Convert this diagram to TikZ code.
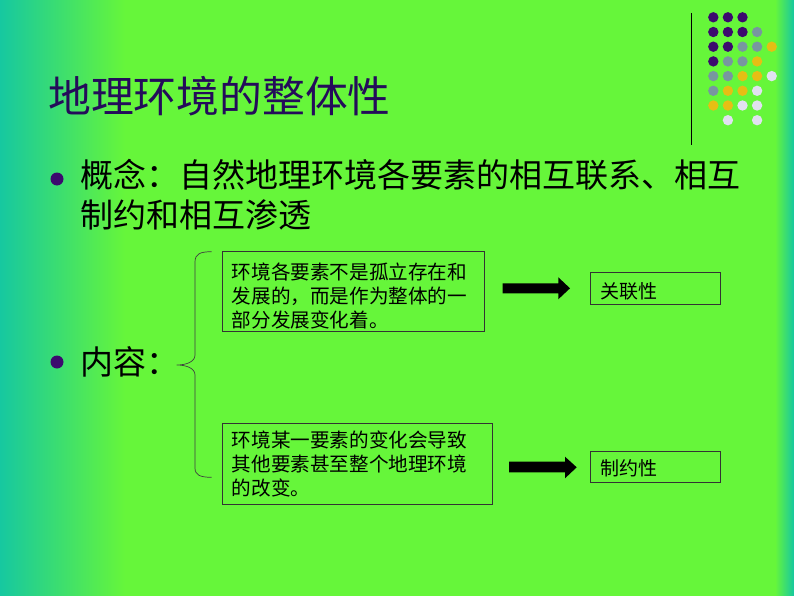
\documentclass[tikz,border=0pt]{standalone}
\usepackage{fontspec}
\setmainfont{Noto Sans CJK SC}
\definecolor{bggreen}{RGB}{102,246,58}
\definecolor{bgteal}{RGB}{22,200,160}
\definecolor{titlecol}{RGB}{36,12,90}
\definecolor{dotP}{RGB}{60,10,110}
\definecolor{dotG}{RGB}{120,150,160}
\definecolor{dotY}{RGB}{230,190,20}
\definecolor{dotW}{RGB}{225,225,240}
\tikzset{
  titletext/.style={anchor=base west, inner sep=0pt, text=titlecol, font=\fontsize{42.8}{50}\selectfont},
  bullettext/.style={anchor=base west, inner sep=0pt, align=left, font=\fontsize{33}{40}\selectfont},
  boxtext/.style={anchor=base west, inner sep=0pt, align=left, font=\fontsize{19.6}{24}\selectfont},
  labeltext/.style={anchor=base west, inner sep=0pt, font=\fontsize{19}{22}\selectfont},
  framebox/.style={draw=black!80, line width=0.8pt, rectangle, inner sep=0pt},
  blockarrow/.style={fill=black},
  bracecol/.style={draw=black!75, line width=0.7pt}
}
\begin{document}
\begin{tikzpicture}[x=1pt, y=-1pt]
\useasboundingbox (0,0) rectangle (794,596);
% background
\fill[bggreen] (0,0) rectangle (794,596);
\shade[left color=bgteal, right color=bggreen] (0,0) rectangle (125,596);
\shade[left color=bggreen, right color=bgteal] (775,0) rectangle (794,596);
% decorative dots and line
\draw[black, line width=0.8pt] (691.7,13) -- (691.7,145);
\foreach \col/\row/\cl in {0/0/P,1/0/P,2/0/P,
  0/1/P,1/1/P,2/1/P,3/1/G,
  0/2/P,1/2/P,2/2/G,3/2/G,4/2/Y,
  0/3/P,1/3/G,2/3/G,3/3/Y,
  0/4/G,1/4/G,2/4/Y,3/4/Y,4/4/W,
  0/5/G,1/5/Y,2/5/Y,3/5/W,
  0/6/Y,1/6/Y,2/6/W,3/6/W,
  1/7/W,3/7/W}{
  \fill[dot\cl] ({713.3+14.6*\col},{17.3+14.7*\row}) circle (5.2);
}
% title
\node[titletext] (title) at (48,112.5) {地理环境的整体性};
% bullets
\fill[dotP] (57,179) circle (6.5);
\fill[dotP] (57,362) circle (6.5);
\node[bullettext] (concept) at (80,227.5) {概念：自然地理环境各要素的相互联系、相互\\制约和相互渗透};
\node[bullettext] (content) at (80,374) {内容：};
% brace
\coordinate (bt) at (211.7,251.7);
\coordinate (bm) at (176.7,365);
\coordinate (bb) at (211.7,477.3);
\draw[bracecol] (bt) .. controls (200,251.7) and (195,254) .. (195,262)
  -- (195,355) .. controls (195,362) and (186,365) .. (bm)
  .. controls (186,365) and (195,368) .. (195,375)
  -- (195,468) .. controls (195,475) and (200,477.3) .. (bb);
% boxes
\node[framebox, minimum width=262pt, minimum height=80pt] (box1) at (353,291) {};
\node[boxtext] (t1) at (231.7,327.5) {环境各要素不是孤立存在和\\发展的，而是作为整体的一\\部分发展变化着。};
\node[framebox, minimum width=270pt, minimum height=81pt] (box2) at (357,463.5) {};
\node[boxtext] (t2) at (231.7,495.5) {环境某一要素的变化会导致\\其他要素甚至整个地理环境\\的改变。};
% arrows
\fill[blockarrow] (502.7,283.3) -- (558.3,283.3) -- (558.3,277.3) -- (570,288.3) -- (558.3,299.3) -- (558.3,293.3) -- (502.7,293.3) -- cycle;
\fill[blockarrow] (509,461.7) -- (565,461.7) -- (565,456.7) -- (576.7,467.3) -- (565,478.3) -- (565,472.3) -- (509,472.3) -- cycle;
% labels
\node[framebox, minimum width=130pt, minimum height=31.6pt] (lab1) at (655,288.5) {};
\node[labeltext] (l1) at (600,298) {关联性};
\node[framebox, minimum width=129.3pt, minimum height=31.7pt] (lab2) at (655.3,466.8) {};
\node[labeltext] (l2) at (600,475.5) {制约性};
\end{tikzpicture}
\end{document}
